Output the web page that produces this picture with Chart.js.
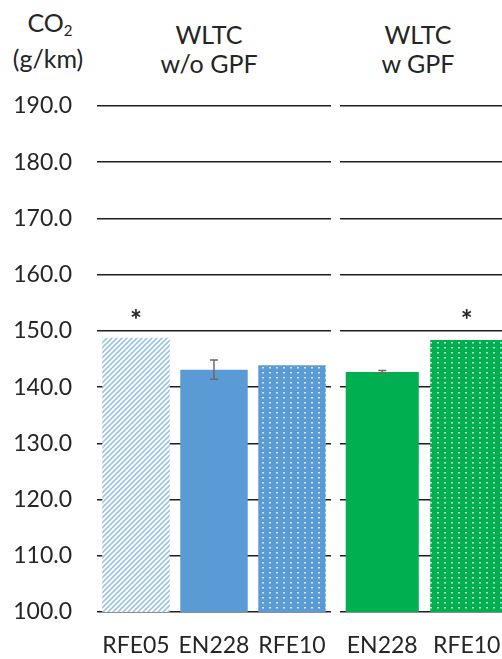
<!DOCTYPE html>
<html>
<head>
<meta charset="utf-8">
<script src="https://cdn.jsdelivr.net/npm/chart.js@4/dist/chart.umd.min.js"></script>
<style>
  html, body { margin: 0; padding: 0; width: 502px; height: 659px; overflow: hidden; background: #fff; }
  body { position: relative; font-family: Lato, "Open Sans", sans-serif; color: #252525; }
  .box { position: absolute; top: 0; height: 659px; }
  .lbl { position: absolute; text-align: center; font-size: 25px; line-height: 29px; white-space: nowrap; }
  .sub { font-size: 15px; position: relative; top: 4px; }
</style>
</head>
<body>
<div class="lbl" style="left:0; width:100px; top:8px;">CO<span class="sub">2</span></div>
<div class="lbl" style="left:0; width:96px; top:44px;">(g/km)</div>
<div class="lbl" id="t0" style="left:149px; width:120px; top:20px;"></div>
<div class="lbl" id="t1" style="left:358px; width:120px; top:20px;"></div>

<div class="box" style="left:0; width:336px;"><canvas id="noGpf"></canvas></div>
<div class="box" style="left:336px; width:173px;"><canvas id="withGpf"></canvas></div>

<script>
// Panel headings
const groupTitles = [['WLTC', 'w/o GPF'], ['WLTC', 'w GPF']];

// WLTC without GPF
const fuelsNoGpf = ['RFE05', 'EN228', 'RFE10'];
const co2NoGpf   = [148.8, 143.1, 143.9];
const errNoGpf   = [null, 1.7, null];
const starNoGpf  = [true, false, false];

// WLTC with GPF
const fuelsGpf = ['EN228', 'RFE10'];
const co2Gpf   = [142.7, 148.4];
const errGpf   = [0.25, null];
const starGpf  = [false, true];

// CO2 axis (g/km)
const yMin = 100, yMax = 190, yStep = 10;
const starLevel = 152.8;

document.getElementById('t0').innerHTML = groupTitles[0].join('<br>');
document.getElementById('t1').innerHTML = groupTitles[1].join('<br>');

const BLUE = '#5B9BD5', GREEN = '#00B050', TEXT = '#252525';
const FONT = 'Lato, "Open Sans", sans-serif';

function hatchPattern(ctx, color) {
  const s = 5, c = document.createElement('canvas');
  c.width = c.height = s;
  const g = c.getContext('2d');
  g.fillStyle = '#fff'; g.fillRect(0, 0, s, s);
  g.strokeStyle = color; g.lineWidth = 1.6;
  g.beginPath();
  g.moveTo(0, s); g.lineTo(s, 0);
  g.moveTo(-1, 1); g.lineTo(1, -1);
  g.moveTo(s - 1, s + 1); g.lineTo(s + 1, s - 1);
  g.stroke();
  return ctx.createPattern(c, 'repeat');
}

function dotPattern(ctx, color) {
  const c = document.createElement('canvas');
  c.width = 7; c.height = 5;
  const g = c.getContext('2d');
  g.fillStyle = color; g.fillRect(0, 0, 7, 5);
  g.fillStyle = 'rgba(255,255,255,0.75)';
  g.fillRect(3, 2, 2, 1.5);
  return ctx.createPattern(c, 'repeat');
}

// Error bars and significance stars drawn from the data arrays
const marksPlugin = {
  id: 'marks',
  afterDatasetsDraw(chart, args, opts) {
    const { ctx } = chart;
    const y = chart.scales.y;
    const meta = chart.getDatasetMeta(0);
    ctx.save();
    opts.errors.forEach((e, i) => {
      if (e == null) return;
      const bar = meta.data[i];
      const v = opts.values[i];
      const top = y.getPixelForValue(v + e), bot = y.getPixelForValue(v - e);
      ctx.strokeStyle = '#6b6b6b';
      ctx.lineWidth = 1.5;
      ctx.beginPath();
      ctx.moveTo(bar.x, bot); ctx.lineTo(bar.x, top);
      ctx.moveTo(bar.x - 4, top); ctx.lineTo(bar.x + 4, top);
      ctx.moveTo(bar.x - 4, bot); ctx.lineTo(bar.x + 4, bot);
      ctx.stroke();
    });
    ctx.fillStyle = TEXT;
    ctx.font = 'bold 28px ' + FONT;
    ctx.textAlign = 'center';
    ctx.textBaseline = 'middle';
    opts.stars.forEach((s, i) => {
      if (!s) return;
      const bar = meta.data[i];
      ctx.fillText('*', bar.x, y.getPixelForValue(starLevel) + 6);
    });
    ctx.restore();
  }
};

function makeChart(id, labels, values, errors, stars, colors, showY, padRight) {
  const canvas = document.getElementById(id);
  const ctx = canvas.getContext('2d');
  return new Chart(canvas, {
    type: 'bar',
    data: {
      labels: labels,
      datasets: [{
        data: values,
        backgroundColor: colors(ctx),
        borderWidth: 0,
        categoryPercentage: 1,
        barPercentage: 0.865
      }]
    },
    options: {
      responsive: true,
      maintainAspectRatio: false,
      animation: false,
      devicePixelRatio: 1,
      layout: { padding: { top: 106, left: 0, right: padRight, bottom: 0 } },
      plugins: {
        legend: { display: false },
        tooltip: { enabled: false },
        marks: { values: values, errors: errors, stars: stars }
      },
      scales: {
        x: {
          grid: { display: false },
          border: { display: false },
          ticks: { color: TEXT, font: { family: FONT, size: 23 }, padding: 12, maxRotation: 0 },
          afterFit(scale) {
            scale.height = 47;
            scale.paddingLeft = 0;
            scale.paddingRight = 0;
          }
        },
        y: {
          min: yMin, max: yMax,
          ticks: {
            display: showY, stepSize: yStep, color: TEXT,
            font: { family: FONT, size: 23 }, padding: 25,
            callback: v => v.toFixed(1)
          },
          grid: { color: '#1e1e1e', lineWidth: 1.6, drawTicks: false },
          border: { display: false },
          afterFit(scale) {
            scale.width = showY ? 97 : 4;
            scale.paddingTop = 0;
            scale.paddingBottom = 0;
          }
        }
      }
    },
    plugins: [marksPlugin]
  });
}

makeChart('noGpf', fuelsNoGpf, co2NoGpf, errNoGpf, starNoGpf,
  ctx => [hatchPattern(ctx, '#9DC3E6'), BLUE, dotPattern(ctx, BLUE)], true, 5);
makeChart('withGpf', fuelsGpf, co2Gpf, errGpf, starGpf,
  ctx => [GREEN, dotPattern(ctx, GREEN)], false, 0);
</script>
</body>
</html>
